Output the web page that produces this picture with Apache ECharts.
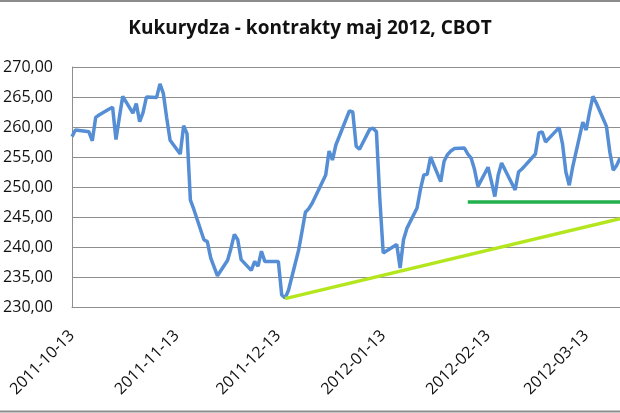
<!DOCTYPE html>
<html>
<head>
<meta charset="utf-8">
<script src="https://cdn.jsdelivr.net/npm/echarts@6/dist/echarts.min.js"></script>
<style>
html,body{margin:0;padding:0;background:#fff;}
#chart{width:620px;height:413px;}
</style>
</head>
<body>
<div id="chart"></div>
<script>
// ---- data ----
var chartTitle = 'Kukurydza - kontrakty maj 2012, CBOT';
var firstDay = '2011-10-13';
var lastDay = '2012-03-23';
var tradeDates = [
 '2011-10-13','2011-10-14','2011-10-17','2011-10-18','2011-10-19','2011-10-20','2011-10-21',
 '2011-10-24','2011-10-25','2011-10-26','2011-10-27','2011-10-28',
 '2011-10-31','2011-11-01','2011-11-02','2011-11-03','2011-11-04',
 '2011-11-07','2011-11-08','2011-11-09','2011-11-10','2011-11-11',
 '2011-11-14','2011-11-15','2011-11-16','2011-11-17','2011-11-18',
 '2011-11-21','2011-11-22','2011-11-23','2011-11-25',
 '2011-11-28','2011-11-29','2011-11-30','2011-12-01','2011-12-02',
 '2011-12-05','2011-12-06','2011-12-07','2011-12-08','2011-12-09',
 '2011-12-12','2011-12-13','2011-12-14','2011-12-15','2011-12-16',
 '2011-12-19','2011-12-20','2011-12-21','2011-12-22','2011-12-23',
 '2011-12-27','2011-12-28','2011-12-29','2011-12-30',
 '2012-01-03','2012-01-04','2012-01-05','2012-01-06',
 '2012-01-09','2012-01-10','2012-01-11','2012-01-12','2012-01-13',
 '2012-01-17','2012-01-18','2012-01-19','2012-01-20',
 '2012-01-23','2012-01-24','2012-01-25','2012-01-26','2012-01-27',
 '2012-01-30','2012-01-31','2012-02-01','2012-02-02','2012-02-03',
 '2012-02-06','2012-02-07','2012-02-08','2012-02-09','2012-02-10',
 '2012-02-13','2012-02-14','2012-02-15','2012-02-16','2012-02-17',
 '2012-02-21','2012-02-22','2012-02-23','2012-02-24',
 '2012-02-27','2012-02-28','2012-02-29','2012-03-01','2012-03-02',
 '2012-03-05','2012-03-06','2012-03-07','2012-03-08','2012-03-09',
 '2012-03-12','2012-03-13','2012-03-14','2012-03-15','2012-03-16',
 '2012-03-19','2012-03-20','2012-03-21','2012-03-22','2012-03-23'
];
var prices = [
 258.4,259.5,259.3,259.2,257.7,261.6,262.0,
 263.0,263.3,257.9,261.6,265.1,
 262.3,263.9,260.9,262.4,265.0,
 264.9,267.2,265.6,261.5,257.8,
 255.5,260.2,258.9,247.8,246.3,
 241.2,240.9,238.2,235.2,
 237.8,239.8,242.1,241.2,237.9,
 236.1,237.6,236.8,239.3,237.6,
 237.6,237.6,232.0,231.5,232.8,
 239.5,242.6,245.8,246.4,247.3,
 252.0,256.0,254.5,257.0,
 262.7,262.5,256.8,256.3,
 259.6,259.8,259.2,248.0,239.0,
 240.4,236.5,241.2,243.1,
 246.5,249.6,252.0,252.1,255.0,
 250.9,254.3,255.4,256.0,256.4,
 256.5,255.5,254.8,252.9,250.1,
 253.3,250.9,248.4,252.0,254.0,
 249.5,252.5,253.0,253.6,
 255.5,259.0,259.2,257.5,258.1,
 259.9,257.2,252.5,250.3,253.3,
 260.8,259.5,262.5,265.1,264.0,
 260.1,255.8,252.8,253.6,254.8
];
var supportDates = ['2012-02-07', '2012-03-23'];
var supportValues = [247.5, 247.5];
var trendDates = ['2011-12-15', '2012-03-23'];
var trendValues = [231.4, 244.7];
var yMin = 230, yMax = 270, yStep = 5;

// ---- calendar categories ----
function fmt(d){
  var m = d.getUTCMonth()+1, day = d.getUTCDate();
  return d.getUTCFullYear() + '-' + (m<10?'0':'') + m + '-' + (day<10?'0':'') + day;
}
var days = [];
(function(){
  var d = new Date(firstDay + 'T00:00:00Z');
  var end = new Date(lastDay + 'T00:00:00Z');
  while (d <= end) { days.push(fmt(d)); d = new Date(d.getTime() + 86400000); }
})();
function pairs(xs, ys){ return xs.map(function(x,i){ return [x, ys[i]]; }); }

var FONT = '"Open Sans", "Noto Sans", sans-serif';
var GRID = '#8e8e8e';
var chart = echarts.init(document.getElementById('chart'), null, {renderer:'canvas'});
chart.setOption({
  animation: false,
  backgroundColor: '#ffffff',
  title: {
    text: chartTitle,
    left: 'center',
    top: 14,
    textStyle: {fontFamily: FONT, fontWeight: 'bold', fontSize: 19, color: '#111'}
  },
  grid: {left: 72, right: -1, top: 67, bottom: 106, containLabel: false},
  xAxis: {
    type: 'category',
    data: days,
    boundaryGap: false,
    axisLine: {show: true, lineStyle: {color: GRID, width: 1}},
    axisTick: {show: false},
    splitLine: {show: false},
    axisLabel: {
      rotate: 45,
      margin: 26,
      interval: function(idx, val){ return val.slice(8) === '13'; },
      fontFamily: FONT, fontSize: 16, color: '#111'
    }
  },
  yAxis: {
    type: 'value',
    min: yMin, max: yMax, interval: yStep,
    axisLine: {show: true, lineStyle: {color: GRID, width: 1}},
    axisTick: {show: false},
    splitLine: {show: true, lineStyle: {color: GRID, width: 1}},
    axisLabel: {
      margin: 19,
      formatter: function(v){ return v.toFixed(2).replace('.', ','); },
      fontFamily: FONT, fontSize: 16, color: '#111'
    }
  },
  series: [
    {
      name: 'Kukurydza', type: 'line', data: pairs(tradeDates, prices),
      symbol: 'none', lineStyle: {color: '#558ED5', width: 3.5}, z: 2
    },
    {
      name: 'support', type: 'line', data: pairs(supportDates, supportValues),
      symbol: 'none', lineStyle: {color: '#22B14C', width: 3.5, cap: 'butt'}, z: 3
    },
    {
      name: 'trend', type: 'line', data: pairs(trendDates, trendValues),
      symbol: 'none', lineStyle: {color: '#B4E61E', width: 3.5, cap: 'butt'}, z: 3
    }
  ],
  graphic: [
    {type: 'line', shape: {x1: 0, y1: 1, x2: 620, y2: 1}, style: {stroke: '#8c8c8c', lineWidth: 2}, silent: true},
    {type: 'line', shape: {x1: 0, y1: 411.5, x2: 620, y2: 411.5}, style: {stroke: '#8c8c8c', lineWidth: 2}, silent: true}
  ]
});
</script>
</body>
</html>
